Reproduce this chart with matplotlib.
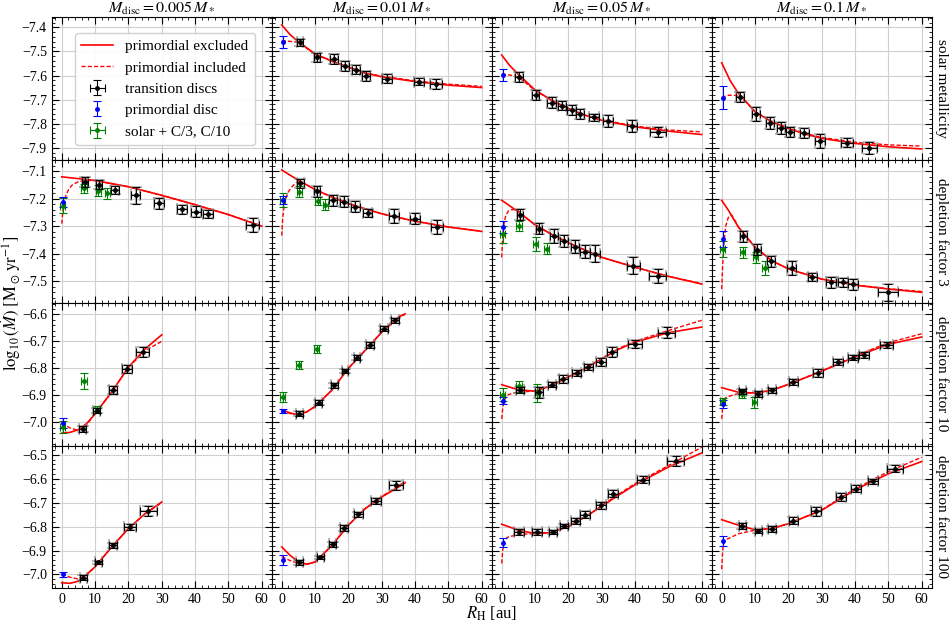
import numpy as np
import matplotlib.pyplot as plt
from matplotlib.ticker import MultipleLocator
from matplotlib.lines import Line2D

plt.rcParams['font.family'] = ['Liberation Serif', 'DejaVu Serif']
plt.rcParams['mathtext.fontset'] = 'stix'

disc_masses = ['0.005', '0.01', '0.05', '0.1']
row_labels = ['solar metallicity', 'depletion factor 3',
              'depletion factor 10', 'depletion factor 100']

# transition discs (black), per row, per column
td_x = [
    [[], [5.5, 10.6, 15.6, 19, 22.3, 25.3, 31.6, 41.3, 46.3],
     [5.3, 10.2, 15, 18, 21, 23.5, 27.8, 31.8, 39, 47],
     [5.5, 10.3, 14.5, 17.8, 20.5, 24.8, 29.5, 37.5, 44.3]],
    [[7, 11.2, 16, 22.2, 29.3, 36, 40.3, 44, 57.3],
     [5.6, 10.6, 15.3, 18.6, 22.1, 25.8, 33.6, 40.1, 46.5],
     [5.5, 11.2, 15.7, 18.8, 22, 25, 28, 39.5, 46.8],
     [6.5, 10.7, 14.8, 21, 27.2, 32.8, 36.5, 39.5, 50]],
    [[6.3, 10.5, 15.3, 19.5, 24.3],
     [5.3, 11.1, 15.8, 19, 22.6, 26.6, 30.8, 34],
     [5.5, 11.2, 15, 18.5, 22.5, 26, 29.7, 33, 40, 49.5],
     [6.2, 11, 15, 21.5, 28.8, 34.8, 39.3, 42.8, 49.5]],
    [[6.5, 11, 15.5, 20.5, 26],
     [5.3, 11.6, 15.3, 18.6, 23, 28.3, 34.3],
     [5.2, 10.7, 15.5, 18.8, 22.2, 25, 29.8, 33.5, 42.5, 52.2],
     [6.2, 11, 15, 21.5, 28.3, 35.7, 40.2, 45.3, 52]],
]
td_y = [
    [[], [-7.462, -7.525, -7.532, -7.561, -7.575, -7.602, -7.613, -7.626, -7.635],
     [-7.605, -7.681, -7.713, -7.725, -7.743, -7.76, -7.774, -7.788, -7.809, -7.834],
     [-7.688, -7.76, -7.796, -7.817, -7.835, -7.84, -7.871, -7.879, -7.9]],
    [[-7.139, -7.149, -7.168, -7.188, -7.216, -7.239, -7.248, -7.257, -7.297],
     [-7.145, -7.173, -7.206, -7.212, -7.23, -7.251, -7.264, -7.273, -7.303],
     [-7.258, -7.309, -7.336, -7.354, -7.374, -7.392, -7.4, -7.443, -7.48],
     [-7.336, -7.386, -7.428, -7.452, -7.484, -7.504, -7.504, -7.511, -7.54]],
    [[-7.025, -6.957, -6.88, -6.802, -6.74],
     [-6.969, -6.928, -6.864, -6.811, -6.761, -6.713, -6.653, -6.622],
     [-6.88, -6.889, -6.861, -6.839, -6.818, -6.796, -6.778, -6.74, -6.709, -6.668],
     [-6.886, -6.895, -6.882, -6.851, -6.818, -6.777, -6.761, -6.75, -6.713]],
    [[-7.014, -6.95, -6.878, -6.801, -6.735],
     [-6.95, -6.929, -6.874, -6.806, -6.749, -6.694, -6.628],
     [-6.822, -6.822, -6.822, -6.797, -6.775, -6.75, -6.711, -6.663, -6.604, -6.526],
     [-6.797, -6.819, -6.81, -6.775, -6.736, -6.676, -6.642, -6.611, -6.558]],
]
td_yerr = [
    [[], [0.015, 0.02, 0.02, 0.02, 0.018, 0.02, 0.018, 0.015, 0.02],
     [0.02, 0.02, 0.022, 0.02, 0.02, 0.02, 0.015, 0.025, 0.025, 0.02],
     [0.02, 0.03, 0.025, 0.025, 0.022, 0.02, 0.03, 0.018, 0.025]],
    [[0.018, 0.015, 0.015, 0.03, 0.02, 0.015, 0.02, 0.015, 0.025],
     [0.015, 0.02, 0.02, 0.02, 0.02, 0.015, 0.025, 0.02, 0.025],
     [0.02, 0.02, 0.025, 0.022, 0.025, 0.025, 0.03, 0.03, 0.025],
     [0.02, 0.02, 0.02, 0.025, 0.015, 0.02, 0.015, 0.02, 0.03]],
    [[0.01, 0.01, 0.015, 0.015, 0.02],
     [0.01, 0.01, 0.01, 0.008, 0.01, 0.012, 0.01, 0.01],
     [0.012, 0.02, 0.01, 0.015, 0.012, 0.01, 0.015, 0.02, 0.015, 0.02],
     [0.01, 0.01, 0.01, 0.01, 0.015, 0.01, 0.01, 0.012, 0.01]],
    [[0.01, 0.008, 0.01, 0.012, 0.02],
     [0.01, 0.008, 0.01, 0.012, 0.01, 0.012, 0.02],
     [0.012, 0.012, 0.008, 0.008, 0.012, 0.015, 0.015, 0.015, 0.015, 0.02],
     [0.012, 0.008, 0.012, 0.015, 0.02, 0.015, 0.015, 0.01, 0.015]],
]
td_xerr = [
    [[], [1, 1, 1.2, 1.2, 1.3, 1.3, 1.5, 1.5, 1.8],
     [1.2, 1, 1.3, 1.2, 1.3, 1.3, 1.5, 1.5, 1.5, 2.4],
     [1.2, 1.2, 1.3, 1.3, 1.3, 1.4, 1.5, 1.8, 2.2]],
    [[1, 1, 1.2, 1.3, 1.5, 1.5, 1.5, 1.5, 2],
     [1, 1, 1.2, 1.2, 1.3, 1.3, 1.5, 1.5, 1.8],
     [1, 1, 1.2, 1.2, 1.3, 1.4, 1.5, 2, 2.5],
     [1, 1, 1.2, 1.3, 1.4, 1.5, 1.5, 1.5, 3]],
    [[1, 1, 1.2, 1.5, 2],
     [1, 1, 1, 1, 1, 1.2, 1.2, 1.3],
     [1.2, 1.2, 1.2, 1.3, 1.3, 1.4, 1.5, 1.5, 2.2, 2.5],
     [1, 1, 1.2, 1.3, 1.5, 1.5, 1.5, 1.5, 2]],
    [[1, 1, 1.2, 1.8, 2.5],
     [1, 1, 1, 1.2, 1.3, 1.5, 2],
     [1.5, 1.5, 1.2, 1.2, 1.3, 1.4, 1.5, 1.5, 1.8, 2.5],
     [1, 1, 1.2, 1.4, 1.5, 1.5, 1.5, 1.5, 2.5]],
]

# primordial disc (blue), one per panel
prim_y = [[None, -7.46, -7.598, -7.692],
          [-7.212, -7.205, -7.303, -7.346],
          [-7.004, -6.959, -6.92, -6.932],
          [-6.999, -6.94, -6.867, -6.861]]
prim_yerr = [[None, 0.024, 0.025, 0.047],
             [0.018, 0.015, 0.02, 0.028],
             [0.018, 0.008, 0.012, 0.015],
             [0.01, 0.02, 0.02, 0.02]]

# solar + C/3, C/10 (green), depleted rows 1 and 2 only
sol_x = {1: [[0.3, 6.7, 11, 13.7], [0.3, 5.3, 10.8, 13.1],
             [0.3, 5.2, 10.2, 13.5], [0.3, 6.3, 10.2, 13]],
         2: [[0.3, 6.7, 10.7], [0.3, 5.1, 10.5],
             [0.3, 5.2, 10.7], [0.3, 6, 9.8]]}
sol_y = {1: [[-7.225, -7.163, -7.172, -7.181], [-7.206, -7.175, -7.209, -7.222],
             [-7.33, -7.3, -7.364, -7.382], [-7.382, -7.395, -7.413, -7.453]],
         2: [[-7.019, -6.848, -6.954], [-6.907, -6.787, -6.728],
             [-6.898, -6.867, -6.892], [-6.923, -6.895, -6.926]]}
sol_yerr = {1: [[0.028, 0.015, 0.02, 0.02], [0.025, 0.02, 0.015, 0.02],
                [0.03, 0.017, 0.025, 0.02], [0.03, 0.02, 0.02, 0.025]],
            2: [[0.022, 0.03, 0.012], [0.018, 0.015, 0.015],
                [0.025, 0.02, 0.035], [0.012, 0.015, 0.02]]}

# fit curves: primordial excluded (solid)
excl_x = [
    [[], [0, 2.5, 5, 10, 15, 20, 25, 30, 40, 50, 60],
     [0, 2.5, 5, 10, 15, 20, 25, 30, 40, 50, 60],
     [0, 2.5, 5, 10, 15, 20, 25, 30, 40, 50, 60]],
    [[0, 10, 20, 30, 40, 50, 60],
     [0, 2.5, 5, 10, 15, 20, 30, 40, 50, 60],
     [0, 2.5, 5, 10, 15, 20, 30, 40, 50, 60],
     [0, 2, 5, 10, 15, 20, 30, 40, 50, 60]],
    [[0, 2.5, 5, 7.5, 10, 15, 20, 25, 30],
     [0, 2.5, 5, 7.5, 10, 15, 20, 25, 30, 35, 37],
     [0, 5, 10, 15, 20, 25, 30, 35, 40, 50, 60],
     [0, 5, 10, 15, 20, 30, 40, 50, 60]],
    [[0, 2.5, 5, 7.5, 10, 15, 20, 25, 30],
     [0, 2.5, 5, 7.5, 10, 15, 20, 25, 30, 35, 37],
     [0, 5, 10, 15, 20, 25, 30, 35, 40, 50, 60],
     [0, 5, 10, 15, 20, 30, 40, 50, 60]],
]
excl_y = [
    [[], [-7.39, -7.43, -7.46, -7.51, -7.54, -7.565, -7.59, -7.605, -7.625, -7.64, -7.65],
     [-7.515, -7.56, -7.595, -7.66, -7.703, -7.737, -7.765, -7.786, -7.813, -7.831, -7.845],
     [-7.547, -7.62, -7.674, -7.75, -7.792, -7.82, -7.843, -7.861, -7.882, -7.896, -7.905]],
    [[-7.121, -7.134, -7.157, -7.188, -7.222, -7.258, -7.3],
     [-7.096, -7.115, -7.133, -7.167, -7.194, -7.218, -7.255, -7.282, -7.303, -7.319],
     [-7.206, -7.227, -7.248, -7.295, -7.33, -7.36, -7.413, -7.449, -7.482, -7.51],
     [-7.206, -7.242, -7.303, -7.376, -7.425, -7.455, -7.492, -7.514, -7.528, -7.54]],
    [[-7.041, -7.038, -7.028, -7.005, -6.969, -6.888, -6.796, -6.728, -6.676],
     [-6.954, -6.966, -6.973, -6.962, -6.942, -6.882, -6.8, -6.734, -6.666, -6.61, -6.598],
     [-6.861, -6.88, -6.885, -6.864, -6.832, -6.802, -6.765, -6.73, -6.703, -6.668, -6.647],
     [-6.872, -6.889, -6.892, -6.882, -6.86, -6.811, -6.758, -6.711, -6.684]],
    [[-7.035, -7.037, -7.028, -7.0, -6.968, -6.885, -6.808, -6.746, -6.697],
     [-6.885, -6.92, -6.947, -6.957, -6.948, -6.88, -6.794, -6.725, -6.676, -6.635, -6.617],
     [-6.79, -6.815, -6.829, -6.825, -6.799, -6.76, -6.715, -6.669, -6.625, -6.551, -6.492],
     [-6.771, -6.794, -6.813, -6.808, -6.788, -6.732, -6.646, -6.579, -6.528]],
]

# fit curves: primordial included (dashed)
incl_x = [
    [[], [0, 2.5, 5, 10, 15, 20, 25, 30, 40, 50, 60],
     [0, 2.5, 5, 10, 15, 20, 25, 30, 40, 50, 60],
     [0, 2, 4, 6, 10, 15, 20, 25, 30, 40, 50, 60]],
    [[0, 0.3, 0.7, 1.2, 2, 3, 5, 7.5, 10, 20, 30, 40, 50, 60],
     [0, 0.3, 0.7, 1.2, 2, 3, 4.5, 6, 10, 15, 20, 30, 40, 50, 60],
     [0, 0.3, 0.7, 1.2, 2, 3, 4, 5, 6.5, 10, 15, 20, 30, 40, 50, 60],
     [0, 0.3, 0.7, 1.2, 2, 3, 4, 5, 10, 15, 20, 30, 40, 50, 60]],
    [[0, 2.5, 5, 7.5, 10, 15, 20, 25, 30],
     [0, 2.5, 5, 7.5, 10, 15, 20, 25, 30, 35, 37],
     [0, 0.3, 0.7, 1.2, 2, 3, 5, 10, 15, 20, 25, 30, 35, 40, 50, 60],
     [0, 0.3, 0.7, 1.2, 2, 4, 6, 10, 15, 20, 30, 40, 50, 60]],
    [[0, 2.5, 5, 7.5, 10, 15, 20, 25, 30],
     [0, 2.5, 5, 7.5, 10, 15, 20, 25, 30, 35, 37],
     [0, 0.3, 0.7, 1.2, 2, 5, 10, 15, 20, 25, 30, 35, 40, 50, 60],
     [0, 0.3, 0.7, 1.2, 2, 5, 10, 15, 20, 30, 40, 50, 60]],
]
incl_y = [
    [[], [-7.455, -7.458, -7.462, -7.512, -7.54, -7.565, -7.588, -7.603, -7.622, -7.636, -7.645],
     [-7.594, -7.598, -7.606, -7.662, -7.703, -7.737, -7.764, -7.784, -7.81, -7.826, -7.834],
     [-7.691, -7.682, -7.682, -7.69, -7.75, -7.79, -7.818, -7.84, -7.857, -7.877, -7.888, -7.893]],
    [[-7.291, -7.25, -7.215, -7.19, -7.168, -7.152, -7.138, -7.134, -7.135, -7.157, -7.188,
      -7.222, -7.258, -7.299],
     [-7.334, -7.27, -7.23, -7.2, -7.175, -7.158, -7.14, -7.14, -7.167, -7.194, -7.218,
      -7.255, -7.282, -7.303, -7.318],
     [-7.413, -7.34, -7.29, -7.262, -7.245, -7.24, -7.24, -7.245, -7.262, -7.295, -7.33,
      -7.36, -7.413, -7.449, -7.482, -7.508],
     [-7.528, -7.44, -7.36, -7.3, -7.268, -7.26, -7.28, -7.303, -7.376, -7.425, -7.455,
      -7.492, -7.513, -7.527, -7.537]],
    [[-7.004, -7.022, -7.031, -7.01, -6.969, -6.888, -6.797, -6.735, -6.7],
     [-6.958, -6.968, -6.973, -6.962, -6.942, -6.882, -6.8, -6.734, -6.667, -6.612, -6.6],
     [-6.988, -6.95, -6.92, -6.905, -6.898, -6.894, -6.888, -6.885, -6.864, -6.832, -6.8,
      -6.763, -6.727, -6.7, -6.66, -6.622],
     [-6.988, -6.945, -6.92, -6.91, -6.905, -6.897, -6.892, -6.892, -6.882, -6.86, -6.81,
      -6.755, -6.705, -6.672]],
    [[-6.999, -7.012, -7.019, -7.0, -6.968, -6.885, -6.808, -6.746, -6.7],
     [-6.926, -6.942, -6.954, -6.958, -6.948, -6.88, -6.794, -6.725, -6.674, -6.63, -6.611],
     [-6.954, -6.9, -6.865, -6.85, -6.843, -6.833, -6.829, -6.825, -6.799, -6.76, -6.713,
      -6.665, -6.62, -6.545, -6.468],
     [-6.978, -6.9, -6.865, -6.855, -6.85, -6.83, -6.815, -6.808, -6.788, -6.73, -6.642,
      -6.57, -6.51]],
]

row_ylims = [(-7.951, -7.358), (-7.578, -7.06), (-7.087, -6.557), (-7.058, -6.461)]

fig, axes = plt.subplots(4, 4, figsize=(9.53, 6.26), dpi=100, sharex=True, sharey='row',
                         gridspec_kw={'wspace': 0, 'hspace': 0})
fig.subplots_adjust(left=0.0543, right=0.9776, top=0.9724, bottom=0.0602)

eb_kw = dict(fmt='o', ms=2.5, elinewidth=0.8, capsize=3, capthick=0.8)

for r in range(4):
    for c in range(4):
        ax = axes[r, c]
        ax.set_axisbelow(True)
        ax.grid(True, color='#d0d0d0', lw=0.8)
        ax.tick_params(which='both', direction='in', top=True, right=True, labelsize=10)
        ax.tick_params(which='major', length=5, width=0.8)
        ax.tick_params(which='minor', length=2.5, width=0.6)
        for s in ax.spines.values():
            s.set_linewidth(0.8)

        if excl_x[r][c]:
            ax.plot(excl_x[r][c], excl_y[r][c], color='red', lw=1.2, zorder=3)
            ax.plot(incl_x[r][c], incl_y[r][c], color='red', lw=1.0, ls='--',
                    dashes=(3, 1.5), zorder=3)
        if td_x[r][c]:
            ax.errorbar(td_x[r][c], td_y[r][c], xerr=td_xerr[r][c], yerr=td_yerr[r][c],
                        fmt='none', ecolor='gray', elinewidth=1.6, capsize=4, capthick=1.4,
                        alpha=0.55, zorder=4)
            ax.errorbar(td_x[r][c], td_y[r][c], xerr=td_xerr[r][c], yerr=td_yerr[r][c],
                        color='k', ecolor='k', zorder=6, **eb_kw)
        if r in sol_x:
            ax.errorbar(sol_x[r][c], sol_y[r][c], xerr=0.8, yerr=sol_yerr[r][c],
                        color='green', ecolor='green', zorder=5, **eb_kw)
        if prim_y[r][c] is not None:
            ax.errorbar([0.3], [prim_y[r][c]], yerr=[prim_yerr[r][c]],
                        color='blue', ecolor='blue', zorder=5, **eb_kw)

        if r == 0:
            ax.set_title(r'$M_\mathrm{disc} = ' + disc_masses[c] + r'\,M_*$', fontsize=11.5, pad=1.5)
        if c == 3:
            ax.text(1.045, 0.5, row_labels[r], transform=ax.transAxes, rotation=-90,
                    ha='center', va='center', fontsize=11)

    axes[r, 0].set_ylim(*row_ylims[r])
    axes[r, 0].yaxis.set_major_locator(MultipleLocator(0.1))
    axes[r, 0].yaxis.set_minor_locator(MultipleLocator(0.02))

axes[0, 0].set_xlim(-3, 63)
axes[0, 0].xaxis.set_major_locator(MultipleLocator(10))
axes[0, 0].xaxis.set_minor_locator(MultipleLocator(2))

# legend in the empty top-left panel
ax0 = axes[0, 0]
handles = [
    Line2D([], [], color='red', lw=1.2),
    Line2D([], [], color='red', lw=1.0, ls='--', dashes=(3, 1.5)),
    ax0.errorbar([np.nan], [np.nan], xerr=[1], yerr=[1], color='k', ecolor='k', **eb_kw),
    ax0.errorbar([np.nan], [np.nan], yerr=[1], color='blue', ecolor='blue', **eb_kw),
    ax0.errorbar([np.nan], [np.nan], xerr=[1], yerr=[1], color='green', ecolor='green', **eb_kw),
]
labels = ['primordial excluded', 'primordial included', 'transition discs',
          'primordial disc', 'solar + C/3, C/10']
ax0.legend(handles, labels, loc='center', bbox_to_anchor=(0.514, 0.4975), fontsize=11,
           handlelength=2.1, labelspacing=0.5, framealpha=0.9)

fig.text(0.012, 0.516, r'$\log_{10}(\dot{M})\ [\mathrm{M}_\odot\,\mathrm{yr}^{-1}]$',
         rotation=90, ha='center', va='center', fontsize=12)
fig.text(0.516, 0.02, r'$R_\mathrm{H}$ [au]', ha='center', va='center', fontsize=12)

fig.savefig('out.png', dpi=100)
